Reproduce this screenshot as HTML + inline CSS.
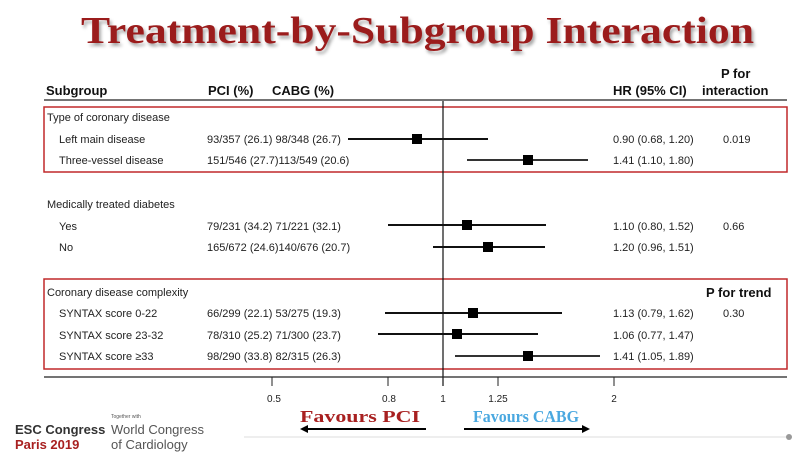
<!DOCTYPE html>
<html><head><meta charset="utf-8"><style>
body{margin:0;background:#fff;}
svg{display:block;font-family:"Liberation Sans",Arial,sans-serif;}
</style></head><body>
<svg width="801" height="459" viewBox="0 0 801 459" xmlns="http://www.w3.org/2000/svg">
<defs><filter id="sh" x="-5%" y="-20%" width="110%" height="150%"><feDropShadow dx="2" dy="3" stdDeviation="1.5" flood-color="#000" flood-opacity="0.35"/></filter></defs>
<text x="81" y="43" font-family="Liberation Serif,serif" font-weight="bold" font-size="38" fill="#9b1c1c" textLength="673" lengthAdjust="spacingAndGlyphs" filter="url(#sh)">Treatment-by-Subgroup Interaction</text>

<g font-size="13" font-weight="bold" fill="#111">
<text x="46" y="95">Subgroup</text>
<text x="208" y="95">PCI (%)</text>
<text x="272" y="95">CABG (%)</text>
<text x="613" y="95">HR (95% CI)</text>
<text x="721" y="78">P for</text>
<text x="702" y="95">interaction</text>
<text x="706" y="297">P for trend</text>
</g>
<line x1="44" y1="100" x2="787" y2="100" stroke="#222" stroke-width="1.2"/>
<rect x="44" y="107" width="743" height="65" fill="none" stroke="#c0282a" stroke-width="1.5"/>
<rect x="44" y="279" width="743" height="90" fill="none" stroke="#c0282a" stroke-width="1.5"/>
<line x1="443" y1="101" x2="443" y2="386" stroke="#111" stroke-width="1.2"/>
<line x1="44" y1="377" x2="787" y2="377" stroke="#222" stroke-width="1.2"/>
<g stroke="#222" stroke-width="1">
<line x1="272" y1="377" x2="272" y2="386"/><line x1="388" y1="377" x2="388" y2="386"/>
<line x1="498" y1="377" x2="498" y2="386"/><line x1="614" y1="377" x2="614" y2="386"/>
</g>
<g font-size="10" fill="#222" text-anchor="middle">
<text x="274" y="402">0.5</text><text x="389" y="402">0.8</text><text x="443" y="402">1</text><text x="498" y="402">1.25</text><text x="614" y="402">2</text>
</g>

<g font-size="11" fill="#222">
<text x="47" y="121">Type of coronary disease</text>
<text x="59" y="143">Left main disease</text><text x="207" y="143">93/357 (26.1)  98/348 (26.7)</text>
<text x="59" y="164">Three-vessel disease</text><text x="207" y="164">151/546 (27.7)113/549 (20.6)</text>
<text x="47" y="208">Medically treated diabetes</text>
<text x="59" y="230">Yes</text><text x="207" y="230">79/231 (34.2)  71/221 (32.1)</text>
<text x="59" y="251">No</text><text x="207" y="251">165/672 (24.6)140/676 (20.7)</text>
<text x="47" y="296">Coronary disease complexity</text>
<text x="59" y="317">SYNTAX score 0-22</text><text x="207" y="317">66/299 (22.1)  53/275 (19.3)</text>
<text x="59" y="339">SYNTAX score 23-32</text><text x="207" y="339">78/310 (25.2)  71/300 (23.7)</text>
<text x="59" y="360">SYNTAX score ≥33</text><text x="207" y="360">98/290 (33.8)  82/315 (26.3)</text>
<text x="613" y="143">0.90 (0.68, 1.20)</text><text x="723" y="143">0.019</text>
<text x="613" y="164">1.41 (1.10, 1.80)</text>
<text x="613" y="230">1.10 (0.80, 1.52)</text><text x="723" y="230">0.66</text>
<text x="613" y="251">1.20 (0.96, 1.51)</text>
<text x="613" y="317">1.13 (0.79, 1.62)</text><text x="723" y="317">0.30</text>
<text x="613" y="339">1.06 (0.77, 1.47)</text>
<text x="613" y="360">1.41 (1.05, 1.89)</text>
</g>

<g stroke="#111" stroke-width="2">
<line x1="348" y1="139" x2="488" y2="139"/>
<line x1="467" y1="160" x2="588" y2="160" stroke="#333"/>
<line x1="388" y1="225" x2="546" y2="225"/>
<line x1="433" y1="247" x2="545" y2="247"/>
<line x1="385" y1="313" x2="562" y2="313"/>
<line x1="378" y1="334" x2="538" y2="334"/>
<line x1="455" y1="356" x2="600" y2="356" stroke="#333"/>
</g>
<g fill="#000">
<rect x="412" y="134" width="10" height="10"/>
<rect x="523" y="155" width="10" height="10"/>
<rect x="462" y="220" width="10" height="10"/>
<rect x="483" y="242" width="10" height="10"/>
<rect x="468" y="308" width="10" height="10"/>
<rect x="452" y="329" width="10" height="10"/>
<rect x="523" y="351" width="10" height="10"/>
</g>

<text x="300" y="422" font-family="Liberation Serif,serif" font-weight="bold" font-size="17" fill="#a82020" textLength="120" lengthAdjust="spacingAndGlyphs">Favours PCI</text>
<text x="473" y="422" font-family="Liberation Serif,serif" font-weight="bold" font-size="17" fill="#4aa8e0" textLength="106" lengthAdjust="spacingAndGlyphs">Favours CABG</text>
<line x1="305" y1="429" x2="426" y2="429" stroke="#000" stroke-width="2"/>
<polygon points="300,429 308,425 308,433" fill="#000"/>
<line x1="464" y1="429" x2="584" y2="429" stroke="#000" stroke-width="2"/>
<polygon points="590,429 582,425 582,433" fill="#000"/>
<line x1="244" y1="437" x2="787" y2="437" stroke="#ddd" stroke-width="1"/>
<circle cx="789" cy="437" r="3" fill="#999"/>

<text x="111" y="418" font-size="5" fill="#555">Together with</text>
<text x="15" y="434" font-size="13" font-weight="bold" fill="#333">ESC Congress</text>
<text x="15" y="449" font-size="13" font-weight="bold" fill="#a82020">Paris 2019</text>
<text x="111" y="434" font-size="13" fill="#555">World Congress</text>
<text x="111" y="449" font-size="13" fill="#555">of Cardiology</text>
</svg>
</body></html>
